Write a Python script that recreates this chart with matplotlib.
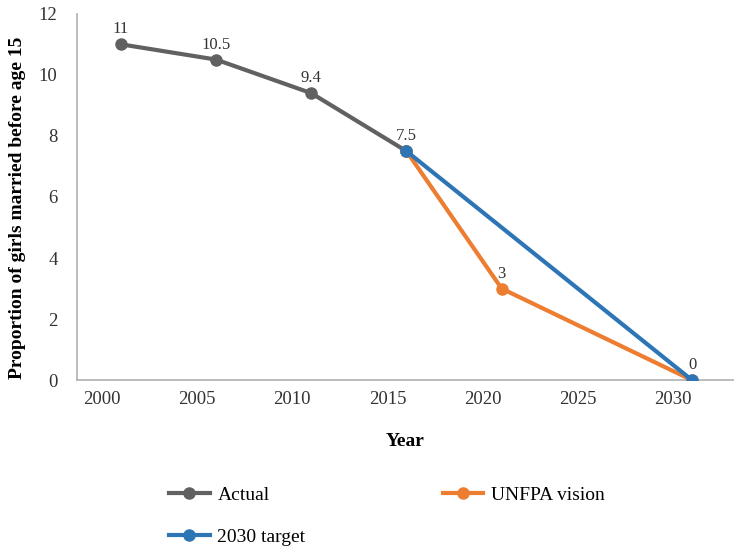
import matplotlib.pyplot as plt

# data
actual_years = [2001, 2006, 2011, 2016]
actual_vals = [11, 10.5, 9.4, 7.5]
unfpa_years = [2016, 2021, 2031]
unfpa_vals = [7.5, 3, 0]
target_years = [2016, 2031]
target_vals = [7.5, 0]
x_ticks = [2000, 2005, 2010, 2015, 2020, 2025, 2030]
y_ticks = [0, 2, 4, 6, 8, 10, 12]

plt.rcParams['font.family'] = ['Liberation Serif', 'DejaVu Serif']

fig = plt.figure(figsize=(7.34, 5.51), dpi=100)
ax = fig.add_axes([0.105, 0.31, 0.895, 0.665])

grey = '#616161'
orange = '#ed7d31'
blue = '#2e75b6'

l1, = ax.plot(actual_years, actual_vals, color=grey, lw=3, marker='o', ms=8, label='Actual', zorder=3)
l2, = ax.plot(unfpa_years, unfpa_vals, color=orange, lw=3, marker='o', ms=8, label='UNFPA vision', zorder=4)
l3, = ax.plot(target_years, target_vals, color=blue, lw=3, marker='o', ms=8, label='2030 target', zorder=5)

labels = list(zip(actual_years, actual_vals)) + [(unfpa_years[1], unfpa_vals[1]), (target_years[-1], target_vals[-1])]
for x, y in labels:
    ax.annotate(f'{y:g}', xy=(x, y), xytext=(0, 5), textcoords='offset points',
                ha='center', va='bottom', fontsize=12, color='#333333')

ax.set_xlim(1998.7, 2033.2)
ax.set_ylim(0, 12)
ax.set_xticks(x_ticks)
ax.set_yticks(y_ticks)
ax.tick_params(length=0, labelsize=13.5, colors='#333333', pad=8)
ax.tick_params(axis='y', pad=14)

for s in ['top', 'right']:
    ax.spines[s].set_visible(False)
for s in ['left', 'bottom']:
    ax.spines[s].set_color('#b0b0b0')
    ax.spines[s].set_linewidth(1.2)

ax.set_xlabel('Year', fontsize=14, fontweight='bold', labelpad=18)
ax.set_ylabel('Proportion of girls married before age 15', fontsize=14, fontweight='bold')
ax.yaxis.set_label_coords(-0.078, 0.47)

# column-wise fill: Actual / 2030 target in the first column, UNFPA vision in the second
fig.legend([l1, l3, l2], ['Actual', '2030 target', 'UNFPA vision'],
           loc='upper left', bbox_to_anchor=(0.206, 0.149), ncol=2, frameon=False,
           fontsize=14, handlelength=2.1, handletextpad=0.4, columnspacing=7.05, labelspacing=1.25)

fig.savefig('out.png', dpi=100)
